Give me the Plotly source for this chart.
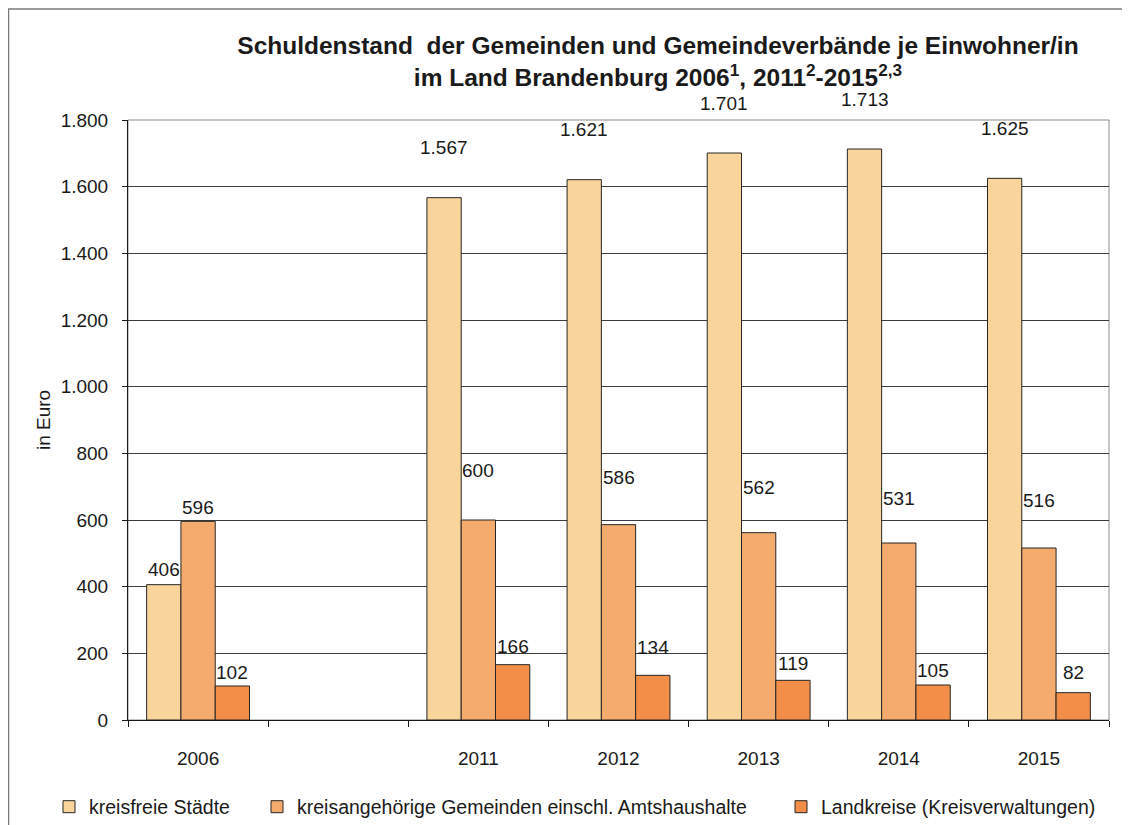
import plotly.graph_objects as go

# Daten (Euro je Einwohner/in)
jahre = ["2006", " ", "2011", "2012", "2013", "2014", "2015"]
kreisfreie_staedte = [406, None, 1567, 1621, 1701, 1713, 1625]
kreisangehoerige_gemeinden = [596, None, 600, 586, 562, 531, 516]
landkreise = [102, None, 166, 134, 119, 105, 82]

serien = ["kreisfreie Städte",
          "kreisangehörige Gemeinden einschl. Amtshaushalte",
          "Landkreise (Kreisverwaltungen)"]
farben = ["#F9D49B", "#F4AB6D", "#F28E47"]
y_ticks = [0, 200, 400, 600, 800, 1000, 1200, 1400, 1600, 1800]

# Abstand Beschriftung über dem Balken (px), wie im Original verschoben
abstand = [[15, None, 50, 50, 50, 50, 50],
           [14, None, 50, 47, 45, 45, 48],
           [14, None, 18, 28, 17, 15, 20]]

FONT = "Liberation Sans, Arial, sans-serif"
W, H = 1122, 817   # Seite hat 8px body-Rand
ML, MR, MT, MB = 120, 21, 112, 105
BARGAP = 0.266

werte_alle = [kreisfreie_staedte, kreisangehoerige_gemeinden, landkreise]

fig = go.Figure()
for name, werte, farbe, leg in zip(serien, werte_alle, farben,
                                   ["legend", "legend2", "legend3"]):
    fig.add_trace(go.Bar(
        x=jahre, y=werte, name=name,
        marker=dict(color=farbe, line=dict(color="#262626", width=1)),
        legend=leg,
    ))

# Datenbeschriftungen (x = Kategorienummer auf der Kategorie-Achse)
balken_px = (W - ML - MR) / len(jahre) * (1 - BARGAP) / len(serien)
labels = []
for i, werte in enumerate(werte_alle):
    for j, v in enumerate(werte):
        if v is None:
            continue
        labels.append(dict(
            x=j, y=v, xref="x", yref="y",
            text=f"{v:,}".replace(",", "."),
            showarrow=False, xanchor="center", yanchor="middle",
            xshift=(i - 1) * balken_px, yshift=abstand[i][j],
            font=dict(size=19, family=FONT, color="#1a1a1a")))

leg_style = dict(orientation="h", xref="container", yref="container",
                 xanchor="left", yanchor="middle", y=0.022,
                 font=dict(size=19.5, color="#1a1a1a", family=FONT),
                 bgcolor="rgba(0,0,0,0)")

fig.update_layout(
    width=W, height=H,
    margin=dict(l=ML, r=MR, t=MT, b=MB),
    paper_bgcolor="white", plot_bgcolor="white",
    separators=",.",
    showlegend=True,
    barmode="group", bargap=BARGAP, bargroupgap=0,
    font=dict(family=FONT, color="#1a1a1a"),
    title=dict(
        text="Schuldenstand  der Gemeinden und Gemeindeverbände je Einwohner/in<br>"
             "im Land Brandenburg 2006<sup>1</sup>, 2011<sup>2</sup>-2015<sup>2,3</sup>",
        x=0.5793, xanchor="center", y=0.9437, yanchor="top",
        font=dict(size=24.5, family=FONT, color="#1a1a1a", weight="bold"),
    ),
    legend=dict(leg_style, x=41 / W),
    legend2=dict(leg_style, x=249 / W),
    legend3=dict(leg_style, x=773 / W),
    xaxis=dict(type="category", categoryorder="array", categoryarray=jahre,
               range=[-0.5, len(jahre) - 0.5],
               showline=True, linecolor="#1a1a1a", linewidth=1,
               ticks="outside", ticklen=6, tickcolor="#1a1a1a", tickson="boundaries",
               tickfont=dict(size=19, family=FONT, color="#1a1a1a"),
               ticklabelstandoff=21, showgrid=False, zeroline=False),
    yaxis=dict(range=[0, 1800], tickvals=y_ticks, tickformat=",.0f",
               showline=True, linecolor="#1a1a1a", linewidth=1,
               ticks="outside", ticklen=5, tickcolor="#1a1a1a",
               tickfont=dict(size=19, family=FONT, color="#1a1a1a"),
               ticklabelstandoff=10,
               showgrid=True, gridcolor="#3c3c3c", gridwidth=1, zeroline=False),
    annotations=labels + [dict(text="in Euro", textangle=-90, xref="paper", yref="paper",
                               x=-0.0866, y=0.5, xanchor="center", yanchor="middle",
                               showarrow=False,
                               font=dict(size=19, family=FONT, color="#1a1a1a"))],
    shapes=[
        # grauer Rahmen der Zeichenfläche (oben/rechts)
        dict(type="rect", xref="paper", yref="paper", x0=0, x1=1, y0=0, y1=1,
             line=dict(color="#8c8c8c", width=1), layer="below"),
        # Rahmen um das ganze Diagramm
        dict(type="rect", xref="paper", yref="paper", x0=-0.1218, x1=1.0204,
             y0=-0.1833, y1=1.1850, line=dict(color="#7a7a7a", width=1.5)),
    ],
)

fig.write_html("out.html")
